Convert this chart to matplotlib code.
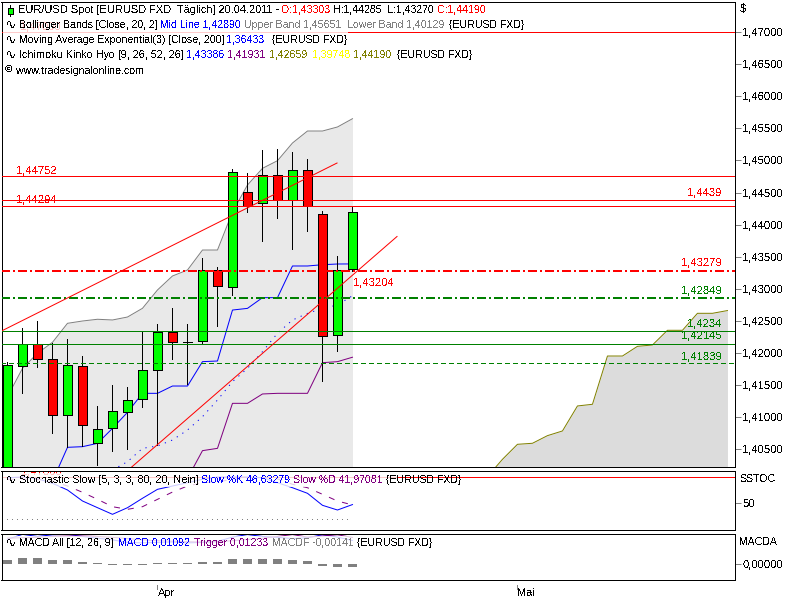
import numpy as np
import matplotlib
matplotlib.use("Agg")
import matplotlib.pyplot as plt
from matplotlib.patches import Rectangle
from matplotlib.ticker import FuncFormatter, FixedLocator

plt.rcParams['font.family'] = ['Liberation Sans', 'DejaVu Sans']
plt.rcParams['text.antialiased'] = False
plt.rcParams['text.hinting'] = 'native'

# ---------- data ----------
opens = [1.4010, 1.41799, 1.42133, 1.41899, 1.41025, 1.4179, 1.40589, 1.40823, 1.41072, 1.41275, 1.41727, 1.42325,
         1.42173, 1.42180, 1.43287, 1.43022, 1.44503, 1.44332, 1.44768, 1.44378, 1.44846, 1.44165, 1.42282, 1.43303]
closes = [1.41805, 1.42133, 1.41899, 1.41025, 1.41805, 1.4087, 1.40807, 1.41088, 1.41259, 1.41727, 1.42325, 1.42164,
          1.42165, 1.43287, 1.43037, 1.44815, 1.44294, 1.44768, 1.44378, 1.44846, 1.44289, 1.42267, 1.43287, 1.44190]
highs = [1.41857, 1.42382, 1.42496, 1.42148, 1.42215, 1.4195, 1.41171, 1.41498, 1.41467, 1.42329, 1.42449, 1.42699,
         1.42449, 1.43479, 1.43334, 1.44866, 1.44804, 1.45163, 1.45178, 1.45132, 1.45022, 1.44216, 1.4351, 1.44285]
lows = [1.4000, 1.41378, 1.41783, 1.40754, 1.40531, 1.40547, 1.4025, 1.40473, 1.405, 1.4116, 1.40562, 1.41908,
        1.41514, 1.42153, 1.42418, 1.42902, 1.44201, 1.43744, 1.44107, 1.43624, 1.43904, 1.41565, 1.42033, 1.43270]

bb_upper = [1.41316, 1.41758, 1.41992, 1.42164, 1.4246, 1.42496, 1.42523, 1.42512, 1.42558, 1.42694, 1.4298, 1.43198,
            1.43291, 1.43603, 1.43603, 1.44196, 1.44617, 1.44877, 1.44996, 1.45272, 1.45459, 1.45459, 1.45522, 1.45651]
bb_lower = 1.40129
bb_mid = [np.nan] * 7 + [1.40172, 1.40302, 1.4051, 1.40547, 1.4064, 1.40796, 1.41004, 1.41264, 1.4155, 1.41758,
                         1.42018, 1.42304, 1.42511, 1.42615, 1.42693, 1.42745, 1.4289]
tenkan = [np.nan] * 3 + [1.39999, 1.40526, 1.40536, 1.40588, 1.40822, 1.41072, 1.41368, 1.41368, 1.41482, 1.41482,
                         1.41862, 1.41872, 1.42667, 1.42693, 1.4286, 1.4286, 1.43354, 1.43354, 1.43374, 1.43385, 1.43386]
kijun = [np.nan] * 12 + [1.40042, 1.40474, 1.4051, 1.41212, 1.41212, 1.41358, 1.41368, 1.41368, 1.41368, 1.41846,
                         1.41862, 1.41931]

cloud_x = list(range(32, 49))
cloud_a = [1.40069, 1.40339, 1.40573, 1.40589, 1.40708, 1.40781, 1.41171, 1.41197, 1.4195, 1.4195, 1.42101, 1.42122,
           1.42351, 1.42351, 1.42616, 1.42616, 1.42659]
cloud_b = 1.39748

h_red_thin = [1.47, 1.44752, 1.4439, 1.44294]
h_green_thin = [1.4234, 1.42145]
h_red_thick = 1.43279
h_green_thick = 1.42849
h_green_dash = 1.41839
trend1_x, trend1_y = [-0.4, 21.97], [1.4234, 1.4496]
trend2_x, trend2_y = [8.28, 25.97], [1.40219, 1.43814]

stoch_k = [95.2, 96.5, 93.4, 85.1, 73, 53.1, 41, 29, 41, 58, 74.2, 80.2, 86.2, 92.3, 96.5, 96.5, 96.5, 95.2, 86.2,
           77.1, 67, 45.3, 36.8, 46.63]
stoch_d = [92.3, 92.3, 92.3, 89, 80.2, 68.8, 56.1, 42.8, 38, 42.8, 56.1, 69.3, 80.2, 86.2, 88, 92, 95, 96, 93,
           83.3, 77.1, 65.2, 53, 46]
stoch_red = 95.9
stoch_low = 20

macd = [.0115, .0138, .0128, .0136, .0138, .0128, .012, .0112, .01, .0098, .01, .0102, .0098, .01, .0105, .0125,
        .0137, .0128, .0124, .0118, .0122, .0136, .0125, .01092]
trigger = [.012, .0122, .0124, .0128, .013, .013, .0128, .0124, .0118, .0112, .0108, .0106, .0103, .0102, .0103,
           .0108, .0114, .012, .0128, .0137, .0125, .013, .0136, .01233]
macdf = [.0017, .0027, .0027, .0017, .0017, .0008, .0003, -.0006, -.0005, -.0005, .0002, .0003, .0003, .0006, .0008,
         .0022, .0022, .0022, .0022, .0017, .0013, -.0009, -.00141, -.00141]

price_ticks = [1.405, 1.41, 1.415, 1.42, 1.425, 1.43, 1.435, 1.44, 1.445, 1.45, 1.455, 1.46, 1.465, 1.47]
month_ticks = [10, 34]
month_labels = ['Apr', 'Mai']

# ---------- layout ----------
W, H = 800, 600
PX = 0.72
THIN = 1.0 * PX
FS = 8.0
FL = 7.6
FM = 7.8
fig = plt.figure(figsize=(8, 6), dpi=100, facecolor='white')


def pane(top, bottom):
    a = fig.add_axes([1.5 / W, 1 - bottom / H, 733 / W, (bottom - top) / H])
    a.set_xlim(-0.4, 48.47)
    for s in a.spines.values():
        s.set_linewidth(PX)
    a.yaxis.tick_right()
    a.set_xticks([])
    a.tick_params(axis='y', length=5.5 * PX, width=PX, color='#808080', pad=1.5, labelsize=FS)
    return a


ax = pane(1.5, 467)
ax_s = pane(471.3, 530.3)
ax_m = pane(534.3, 580.3)

x = np.arange(len(opens))

# ---------- main pane ----------
ax.set_ylim(1.40219, 1.47479)
ax.yaxis.set_major_locator(FixedLocator(price_ticks))
ax.yaxis.set_major_formatter(FuncFormatter(lambda v, _: f"{v:.5f}".replace('.', ',')))

ax.fill_between(x, bb_lower, bb_upper, color='#E9E9E9', lw=0, zorder=1)
ax.fill_between(cloud_x, cloud_b, cloud_a, color='#DCDCDC', lw=0, zorder=1)
ax.plot(x, bb_upper, color='#808080', lw=THIN, zorder=2)
ax.plot(x, bb_mid, color='#0000FF', lw=THIN, ls=(0, (1.2, 5.5)), zorder=2)
ax.plot(x, tenkan, color='#0000FF', lw=THIN, zorder=2)
ax.plot(x, kijun, color='#800080', lw=THIN, zorder=2)
ax.plot(cloud_x, cloud_a, color='#808000', lw=THIN, zorder=2)

ax.vlines(x, lows, highs, color='black', lw=PX, zorder=3, antialiased=False, snap=True)
body_bottom = np.minimum(opens, closes)
body_height = np.abs(np.array(closes) - np.array(opens))
body_color = ['#00FF00' if c >= o else '#FF0000' for o, c in zip(opens, closes)]
body_color[12] = '#000000'
ax.bar(x, body_height, 0.66, body_bottom, color=body_color, edgecolor='black', lw=PX, zorder=4,
       antialiased=False)

ax.hlines(h_red_thin, -0.4, 48.47, color='#FF0000', lw=PX, zorder=5, antialiased=False, snap=True)
ax.hlines(h_green_thin, -0.4, 48.47, color='#008000', lw=PX, zorder=5, antialiased=False, snap=True)
ax.hlines(h_red_thick, -0.4, 48.47, color='#FF0000', lw=2 * PX, ls=(0, (4.5, 1.5, 1, 1.5)), zorder=5,
          antialiased=False, snap=True)
ax.hlines(h_green_thick, -0.4, 48.47, color='#008000', lw=2 * PX, ls=(0, (4.5, 1.5, 1, 1.5)), zorder=5,
          antialiased=False, snap=True)
ax.hlines(h_green_dash, -0.4, 48.47, color='#008000', lw=PX, ls=(0, (5, 3)), zorder=5, antialiased=False,
          snap=True)
ax.plot(trend1_x, trend1_y, color='#FF0000', lw=THIN, zorder=5)
ax.plot(trend2_x, trend2_y, color='#FF0000', lw=THIN, zorder=5)

# ---------- stochastic pane ----------
ax_s.set_ylim(0.1, 106.8)
ax_s.set_yticks([50], ['50'])
ax_s.plot(x, stoch_k, color='#0000FF', lw=THIN, zorder=3)
ax_s.plot(x, stoch_d, color='#800080', lw=THIN, ls=(0, (6, 8)), zorder=3)
ax_s.hlines(stoch_low, 0, 23, color='#808080', lw=PX, ls=(0, (1, 5)), zorder=2, antialiased=False, snap=True)
ax_s.axhline(stoch_red, color='#FF0000', lw=PX, zorder=2, antialiased=False)
ax_s.text(20 / 733, 105.5, '1,47000', transform=ax_s.get_yaxis_transform(), color='#FF0000', fontsize=FS,
          va='center', ha='left', clip_on=True, zorder=2)

# ---------- MACD pane ----------
ax_m.set_ylim(-0.0078, 0.01382)
ax_m.set_yticks([0], ['0,00000'])
ax_m.bar(x, macdf, 0.66, color='#808080', lw=0, zorder=2, antialiased=False)
ax_m.plot(x, macd, color='#0000FF', lw=THIN, zorder=2)
ax_m.plot(x, trigger, color='#800080', lw=THIN, zorder=2)
ax_m.set_xticks(month_ticks, month_labels, ha='left')
ax_m.tick_params(axis='x', length=0, pad=5.5, labelsize=FS)
ax_m.vlines(month_ticks, -0.19, -0.10, color='#808080', lw=PX, transform=ax_m.get_xaxis_transform(), clip_on=False,
            antialiased=False, snap=True)

# ---------- overlay in pixel coordinates ----------
ov = fig.add_axes([0, 0, 1, 1], zorder=10)
ov.set_xlim(0, W)
ov.set_ylim(H, 0)
ov.axis('off')
ov.patch.set_alpha(0)

for (x0, y0, w0, h0) in [(2.5, 18, 345, 24), (2.5, 473, 395, 14), (2.5, 536, 490, 13)]:
    ov.add_patch(Rectangle((x0, y0), w0, h0, fc='white', ec='none', alpha=0.8, zorder=2))

BL, BK = '#0000FF', '#000000'
PU, OL, GY, RD = '#800080', '#808000', '#808080', '#FF0000'


def seq(y0, parts, fs=FL):
    for x0, txt, col in parts:
        ov.text(x0, y0, txt, color=col, fontsize=fs, va='center', ha='left', zorder=5)


ov.text(20, 26.5, '1,47000', color='#FFC4C4', fontsize=FS, va='center', ha='left', zorder=3)

seq(10, [(18.5, 'EUR/USD Spot [EURUSD FXD  Täglich] 20.04.2011 -', BK)], FM + 0.1)
seq(10, [(281, 'O:1,43303', RD), (333.5, 'H:1,44285', BK), (386.7, 'L:1,43270', BK), (437.7, 'C:1,44190', RD)])
seq(25, [(18.7, 'Bollinger Bands [Close, 20, 2]', BK), (160, 'Mid Line 1,42890', BL),
         (244.3, 'Upper Band 1,45651', GY), (346.7, 'Lower Band 1,40129', GY), (449.3, '{EURUSD FXD}', BK)])
seq(40, [(18.7, 'Moving Average Exponential(3) [Close, 200]', BK), (225.7, '1,36433', BL),
         (271.7, '{EURUSD FXD}', BK)])
seq(55, [(18.7, 'Ichimoku Kinko Hyo [9, 26, 52, 26]', BK)], FM)
seq(55, [(185.7, '1,43386', BL), (227.3, '1,41931', PU), (269.3, '1,42659', OL), (311.7, '1,39748', '#FFFF00'),
         (353.5, '1,44190', OL), (396.7, '{EURUSD FXD}', BK)])
ov.text(5, 70, '©', color=BK, fontsize=FS - 1, va='center', ha='left', zorder=5)
ov.text(16.5, 71, 'www.tradesignalonline.com', color=BK, fontsize=FL, va='center', ha='left', zorder=5)
seq(480, [(18.7, 'Stochastic Slow [5, 3, 3, 80, 20, Nein]', BK)], FM)
seq(480, [(201, 'Slow %K 46,63279', BL), (292.7, 'Slow %D 41,97081', PU), (386.3, '{EURUSD FXD}', BK)])
seq(542.7, [(18.7, 'MACD All [12, 26, 9]', BK), (118.3, 'MACD 0,01092', BL), (194, 'Trigger 0,01233', PU),
            (271.7, 'MACDF -0,00141', GY), (357.3, '{EURUSD FXD}', BK)])

for yy in (25, 40, 55, 480, 542.7):
    ov.text(4.5, yy, '∿', color=BK, fontsize=FS + 2, va='center', ha='left', family='DejaVu Sans', zorder=5)
ov.vlines(10, 5, 16, color=BK, lw=PX, antialiased=False, snap=True, zorder=5)
ov.add_patch(Rectangle((7.5, 7.5), 5, 6, fc='#00FF00', ec=BK, lw=PX, zorder=6, antialiased=False))

for txt, xl, yl, col in [('1,44752', 16, 170.7, RD), ('1,44294', 16, 199.7, RD), ('1,4439', 687.5, 193.3, RD),
                         ('1,43279', 681, 263.3, RD), ('1,43204', 353, 283, RD), ('1,42849', 681, 290.7, '#008000'),
                         ('1,4234', 687.5, 324.3, '#008000'), ('1,42145', 681, 336.3, '#008000'),
                         ('1,41839', 681, 356.7, '#008000')]:
    ov.text(xl, yl, txt, color=col, fontsize=FS, va='center', ha='left', zorder=5)

ov.text(739.5, 9, '$', color=BK, fontsize=FS, va='center', ha='left')
ov.text(739.5, 478.5, 'SSTOC', color=BK, fontsize=FL, va='center', ha='left')
ov.text(739.5, 541.7, 'MACDA', color=BK, fontsize=FL, va='center', ha='left')

fig.savefig('out.png', dpi=100, facecolor='white')
